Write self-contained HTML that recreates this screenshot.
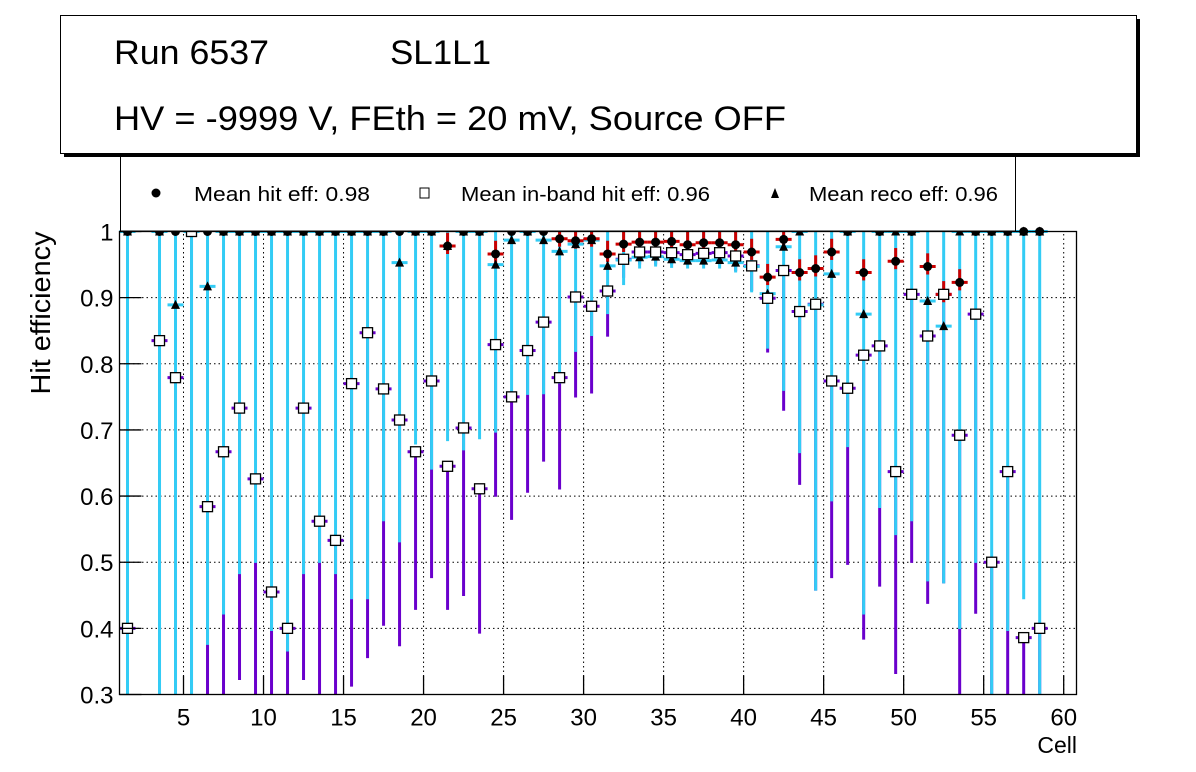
<!DOCTYPE html>
<html><head><meta charset="utf-8"><style>
html,body{margin:0;padding:0;background:#fff;}
svg{display:block;font-family:"Liberation Sans",sans-serif;}
</style></head><body>
<svg id="c" width="1196" height="772" viewBox="0 0 1196 772">
<rect x="0" y="0" width="1196" height="772" fill="#fff"/>
<g id="grid"></g>
<g id="marks"></g>
<rect x="119.5" y="231.5" width="957" height="463" fill="none" stroke="#000" stroke-width="1.3"/>
<g id="axes"></g>
<text x="50" y="313" font-size="28" text-anchor="middle" textLength="163" lengthAdjust="spacingAndGlyphs" transform="rotate(-90 50 313)">Hit efficiency</text>
<text x="1077" y="753" font-size="23" text-anchor="end">Cell</text>
<g>
<rect x="120.5" y="140" width="895" height="91" fill="#fff" stroke="#000" stroke-width="1"/>
<circle cx="156" cy="193" r="4.5" fill="#000"/>
<text x="194" y="201" font-size="20" textLength="176" lengthAdjust="spacingAndGlyphs">Mean hit  eff: 0.98</text>
<rect x="420" y="188" width="9" height="10" fill="#fff" stroke="#000"/>
<text x="461" y="201" font-size="20" textLength="249" lengthAdjust="spacingAndGlyphs">Mean in-band hit eff: 0.96</text>
<polygon points="775,188 771,198 779,198" fill="#000"/>
<text x="809" y="201" font-size="20" textLength="189" lengthAdjust="spacingAndGlyphs">Mean reco eff: 0.96</text>
</g>
<g>
<rect x="64" y="19" width="1076" height="138" fill="#000"/>
<rect x="60.5" y="15.5" width="1076" height="138" fill="#fff" stroke="#000" stroke-width="1"/>
<text x="114" y="64" font-size="34" textLength="155" lengthAdjust="spacingAndGlyphs">Run 6537</text>
<text x="390" y="64" font-size="34" textLength="101" lengthAdjust="spacingAndGlyphs">SL1L1</text>
<text x="114" y="130" font-size="34" textLength="672" lengthAdjust="spacingAndGlyphs">HV = -9999 V, FEth = 20 mV, Source OFF</text>
</g>
</svg>
<script>
const cells = [1,3,4,5,6,7,8,9,10,11,12,13,14,15,16,17,18,19,20,21,22,23,24,25,26,27,28,29,30,31,32,33,34,35,36,37,38,39,40,41,42,43,44,45,46,47,48,49,50,51,52,53,54,55,56,57,58];
const hitEff = [1,1,1,1,1,1,1,1,1,1,1,1,1,1,1,1,1,1,1,0.978,1,1,0.966,1,1,1,0.989,0.986,0.989,0.966,0.981,0.984,0.984,0.985,0.98,0.983,0.983,0.98,0.969,0.931,0.988,0.938,0.944,0.969,1,0.938,1,0.955,1,0.947,0.905,0.923,1,1,1,1,1];
const inbandEff = [0.40,0.835,0.779,1,0.584,0.667,0.733,0.626,0.455,0.40,0.733,0.562,0.533,0.770,0.847,0.762,0.715,0.667,0.774,0.645,0.703,0.611,0.829,0.750,0.820,0.863,0.779,0.901,0.887,0.910,0.958,0.969,0.969,0.968,0.965,0.967,0.968,0.963,0.948,0.899,0.941,0.879,0.890,0.774,0.763,0.813,0.827,0.637,0.905,0.842,0.905,0.692,0.875,0.50,0.637,0.386,0.40];
const inbandLow = [0.3,0.3,0.3,0.3,0.3,0.3,0.322,0.3,0.3,0.3,0.322,0.3,0.3,0.312,0.355,0.404,0.373,0.428,0.476,0.428,0.449,0.392,0.599,0.564,0.605,0.652,0.610,0.749,0.755,0.841,0.93,0.95,0.95,0.95,0.95,0.95,0.95,0.94,0.91,0.817,0.729,0.617,0.457,0.476,0.496,0.383,0.463,0.331,0.499,0.437,0.468,0.3,0.422,0.3,0.3,0.3,0.3];
const recoEff = [1,1,0.889,1,0.917,1,1,1,1,1,1,1,1,1,1,1,0.953,1,1,0.978,1,1,0.950,0.987,1,0.987,0.970,0.981,0.987,0.948,0.957,0.961,0.962,0.958,0.956,0.956,0.957,0.953,0.947,0.906,0.977,1,0.889,0.936,1,0.875,1,1,1,0.895,0.857,1,1,1,1,1,1];
const recoLow = [0.3,0.3,0.3,0.3,0.375,0.421,0.482,0.499,0.396,0.365,0.482,0.499,0.482,0.444,0.444,0.562,0.530,0.678,0.640,0.683,0.669,0.686,0.696,0.742,0.753,0.754,0.770,0.818,0.842,0.875,0.919,0.944,0.947,0.945,0.944,0.944,0.944,0.938,0.908,0.823,0.759,0.665,0.457,0.592,0.674,0.421,0.582,0.541,0.562,0.471,0.468,0.399,0.499,0.3,0.396,0.444,0.3];
const yTicks = [0.3,0.4,0.5,0.6,0.7,0.8,0.9,1];
const yTickLabels = ["0.3","0.4","0.5","0.6","0.7","0.8","0.9","1"];
const xTicks = [5,10,15,20,25,30,35,40,45,50,55,60];

const X0=119.5,X1=1076.5,Y0=694.5,Y1=231.5, XMIN=1, XMAX=60.8, YMIN=0.3, YMAX=1;
const sx=v=>X0+(v-XMIN)/(XMAX-XMIN)*(X1-X0);
const sy=v=>Y0-(v-YMIN)/(YMAX-YMIN)*(Y0-Y1);
const NS='http://www.w3.org/2000/svg';
function mk(parent,tag,attrs){const e=document.createElementNS(NS,tag);for(const k in attrs)e.setAttribute(k,attrs[k]);parent.appendChild(e);return e;}
const grid=document.getElementById('grid'),axes=document.getElementById('axes'),marks=document.getElementById('marks');

yTicks.forEach((t,i)=>{
  if(t>YMIN&&t<YMAX){const g=mk(grid,'line',{x1:X0,x2:X1,y1:sy(t),y2:sy(t),stroke:'#000','stroke-width':1,'stroke-dasharray':'1.5,3'});
  
  }
  const tk=mk(axes,'line',{x1:X0,x2:X0+22,y1:sy(t),y2:sy(t),stroke:'#000','stroke-width':1.3});
  
  
  const lb=mk(axes,'text',{x:X0-6,y:sy(t)+9,'font-size':24,'text-anchor':'end'});
  lb.textContent=yTickLabels[i];
  
  
});
xTicks.forEach(t=>{
  const g=mk(grid,'line',{x1:sx(t),x2:sx(t),y1:Y0,y2:Y1,stroke:'#000','stroke-width':1,'stroke-dasharray':'1.5,3'});
  
  
  const tk=mk(axes,'line',{x1:sx(t),x2:sx(t),y1:Y0,y2:Y0-19,stroke:'#000','stroke-width':1.3});
  
  
  const lb=mk(axes,'text',{x:sx(t),y:Y0+31,'font-size':24,'text-anchor':'middle'});
  lb.textContent=String(t);
  
  
});

const PUR='#6a00cc',CY='#33ccf5',RED='#cc0000';
cells.forEach((c,i)=>{
  const x=sx(c+0.5),h=(sx(c+1)-sx(c))/2;
  let e=mk(marks,'line',{x1:x,x2:x,y1:sy(Math.min(1,inbandEff[i])),y2:sy(inbandLow[i]),stroke:PUR,'stroke-width':3});
  
  
  e=mk(marks,'line',{x1:x-h,x2:x+h,y1:sy(inbandEff[i]),y2:sy(inbandEff[i]),stroke:PUR,'stroke-width':3});
  
  
  e=mk(marks,'line',{x1:x,x2:x,y1:sy(1),y2:sy(recoLow[i]),stroke:CY,'stroke-width':3});
  
  
  e=mk(marks,'line',{x1:x-h,x2:x+h,y1:sy(recoEff[i]),y2:sy(recoEff[i]),stroke:CY,'stroke-width':3});
  
  
  if(hitEff[i]<1){
    e=mk(marks,'line',{x1:x,x2:x,y1:sy(Math.min(1,hitEff[i]+0.02)),y2:sy(hitEff[i]-0.012),stroke:RED,'stroke-width':3});
    
    
    e=mk(marks,'line',{x1:x-h,x2:x+h,y1:sy(hitEff[i]),y2:sy(hitEff[i]),stroke:RED,'stroke-width':3});
    
    
  }
});
cells.forEach((c,i)=>{
  const x=sx(c+0.5);
  let m=mk(marks,'circle',{cx:x,cy:sy(hitEff[i]),r:4.5,fill:'#000'});
  
  
  const yr=sy(recoEff[i]);
  m=mk(marks,'polygon',{points:`${x},${yr-5} ${x-4.5},${yr+4} ${x+4.5},${yr+4}`,fill:'#000'});
  
  
  const yi=sy(inbandEff[i]);
  m=mk(marks,'rect',{x:x-5,y:yi-5,width:10,height:10,fill:'#fff',stroke:'#000','stroke-width':1.3});
  
  
});
</script>
</body></html>
